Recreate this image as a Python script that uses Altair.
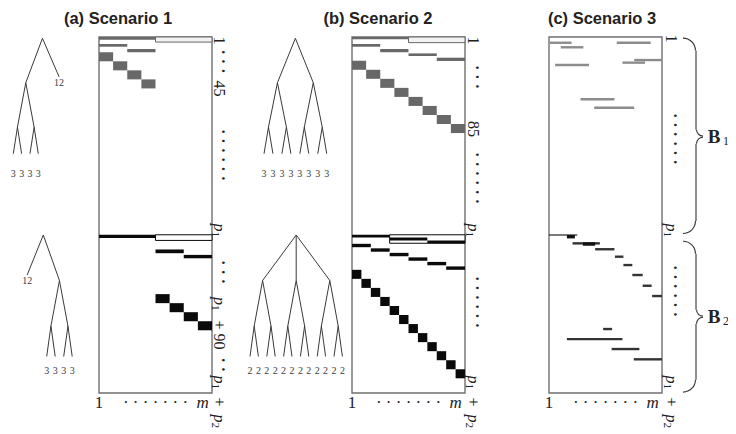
import math
import altair as alt
import pandas as pd

# ---------------- data (matrix units: columns 0..24, rows 0..315) ----------------
TITLES = ["(a) Scenario 1", "(b) Scenario 2", "(c) Scenario 3"]

# Scenario 1 blocks (c0, c1, r0, r1)
A_GRAY = [(0, 12, 0, 2.5), (0, 6, 6.2, 8.6), (6, 12, 10.6, 13.5),
          (0, 3, 13.5, 21.5), (3, 6, 21.5, 29.5), (6, 9, 29.5, 37.5), (9, 12, 37.5, 45.5)]
A_GRAY_OPEN = [(12, 24, 0, 4.5)]
A_BLACK = [(0, 12, 175, 177.8), (12, 18, 188, 191.3), (18, 24, 192.8, 195.8),
           (12, 15, 227.5, 235.5), (15, 18, 235.5, 243.5), (18, 21, 243.5, 251.5), (21, 24, 251.5, 259.5)]
A_BLACK_OPEN = [(12, 24, 175, 180)]

# Scenario 2 blocks
B_GRAY = [(0, 12, 0, 2), (0, 6, 6.2, 8.6), (6, 12, 10.6, 13.5), (12, 18, 14.5, 16.8), (18, 24, 18.3, 21.2),
          (0, 3, 21, 29), (3, 6, 29, 37), (6, 9, 37, 45), (9, 12, 45, 53),
          (12, 15, 53, 61), (15, 18, 61, 69), (18, 21, 69, 77), (21, 24, 77, 85)]
B_GRAY_OPEN = [(12, 24, 0, 5)]
B_BLACK = [(0, 8, 175, 177.5), (8, 16, 177.5, 180), (16, 24, 180, 182.5),
           (0, 4, 183, 186), (4, 8, 187, 190), (8, 12, 191, 194), (12, 16, 195, 198),
           (16, 20, 199, 202), (20, 24, 203, 206),
           (0, 2, 206, 214), (2, 4, 214, 222), (4, 6, 222, 230), (6, 8, 230, 238),
           (8, 10, 238, 246), (10, 12, 246, 254), (12, 14, 254, 262), (14, 16, 262, 270),
           (16, 18, 270, 278), (18, 20, 278, 286), (20, 22, 286, 294), (22, 24, 294, 302)]
B_BLACK_OPEN = [(8, 24, 175, 182.5)]

# Scenario 3 segments (c0, c1, row)
C_GRAY_SEG = [(0.2, 4.8, 5.1), (2.5, 7.3, 9.1), (14.4, 21.6, 5.1), (1.3, 8.5, 24.8),
              (15.6, 20.4, 22.7), (18.1, 24, 20.4), (6.7, 13.9, 55.1), (9.6, 18.1, 62.6)]
C_DARK_SEG = [(5, 10.8, 182.6), (9.8, 13.9, 187.8), (14, 15.8, 194.4), (15.8, 17.7, 201.8),
              (17.7, 19.9, 210.6), (19.9, 21.8, 220.1), (21.9, 24, 229.2), (11.5, 13.4, 258.4),
              (3.8, 15.6, 267.3), (13.3, 19.2, 276.1), (18, 24, 285.2)]
C_THIN_SEG = [(0, 6, 175.2)]
C_THICK_SEG = [(3.8, 5.5, 176.7), (7.2, 9.8, 183.2)]

# right-hand row labels: (text, row, style)  n=upright, i=italic, s=subscript, d=dots
A_ROWLAB = [("1", 3.1, "n"), ("· · ·", 21.7, "d"), ("45", 45.6, "n"), ("· · · · · ·", 104.4, "d"),
            ("p", 168.5, "i"), ("1", 174.5, "s"), ("· · ·", 208, "d"),
            ("p", 233.5, "i"), ("1", 239.5, "s"), ("+ 90", 263.7, "n"),
            ("· ·", 290, "d"), ("p", 303, "i"), ("1", 309, "s"), ("+", 323, "n"),
            ("p", 337.5, "i"), ("2", 343.5, "s")]
B_ROWLAB = [("1", 3.1, "n"), ("· · ·", 35.4, "d"), ("85", 81.4, "n"), ("· · · · · ·", 124.8, "d"),
            ("p", 168.5, "i"), ("1", 174.5, "s"), ("· · · · · ·", 234.5, "d"),
            ("p", 303, "i"), ("1", 309, "s"), ("+", 323, "n"), ("p", 337.5, "i"), ("2", 343.5, "s")]
C_ROWLAB = [("1", 1.3, "n"), ("· · · · · ·", 90.2, "d"), ("p", 168.5, "i"), ("1", 174.5, "s"),
            ("· · · · · ·", 224.7, "d"), ("p", 303, "i"), ("1", 309, "s"), ("+", 323, "n"),
            ("p", 337.5, "i"), ("2", 343.5, "s")]
COLLAB = [("1", 0, "n"), ("· · · · · · ·", 12, "n"), ("m", 22, "i")]

# trees: nodes (u = leaf units, level), edges, labels (u, level, text)
T_A1_NODES = {"r": (3.5, 0), "n": (1.5, 1), "t": (5.5, 0.87), "l": (0.5, 2), "m": (2.5, 2),
              "x0": (0, 2.6), "x1": (1, 2.6), "x2": (2, 2.6), "x3": (3, 2.6)}
T_A1_EDGES = [("r", "n"), ("r", "t"), ("n", "l"), ("n", "m"), ("l", "x0"), ("l", "x1"), ("m", "x2"), ("m", "x3")]
T_A1_LABELS = [(5.5, 1.0, "12"), (0, 3.05, "3"), (1, 3.05, "3"), (2, 3.05, "3"), (3, 3.05, "3")]

T_A2_NODES = {"r": (-0.4, 0), "t": (-2.3, 0.88), "n": (1.5, 1), "l": (0.5, 2), "m": (2.5, 2),
              "x0": (0, 2.67), "x1": (1, 2.67), "x2": (2, 2.67), "x3": (3, 2.67)}
T_A2_EDGES = [("r", "t"), ("r", "n"), ("n", "l"), ("n", "m"), ("l", "x0"), ("l", "x1"), ("m", "x2"), ("m", "x3")]
T_A2_LABELS = [(-2.3, 1.02, "12"), (0, 2.98, "3"), (1, 2.98, "3"), (2, 2.98, "3"), (3, 2.98, "3")]

T_B1_NODES = {"r": (3.5, 0), "p": (1.5, 1), "q": (5.5, 1),
              "a": (0.5, 2), "b": (2.5, 2), "c": (4.5, 2), "d": (6.5, 2),
              "x0": (0, 2.6), "x1": (1, 2.6), "x2": (2, 2.6), "x3": (3, 2.6),
              "x4": (4, 2.6), "x5": (5, 2.6), "x6": (6, 2.6), "x7": (7, 2.6)}
T_B1_EDGES = [("r", "p"), ("r", "q"), ("p", "a"), ("p", "b"), ("q", "c"), ("q", "d"),
              ("a", "x0"), ("a", "x1"), ("b", "x2"), ("b", "x3"), ("c", "x4"), ("c", "x5"), ("d", "x6"), ("d", "x7")]
T_B1_LABELS = [(0, 3.05, "3"), (1, 3.05, "3"), (2, 3.05, "3"), (3, 3.05, "3"),
               (4, 3.05, "3"), (5, 3.05, "3"), (6, 3.05, "3"), (7, 3.05, "3")]

T_B2_NODES = {"r": (5.5, 0), "p": (1.5, 1), "q": (5.5, 1), "s": (9.5, 1),
              "a": (0.5, 2), "b": (2.5, 2), "c": (4.5, 2), "d": (6.5, 2), "e": (8.5, 2), "f": (10.5, 2),
              "x0": (0, 2.67), "x1": (1, 2.67), "x2": (2, 2.67), "x3": (3, 2.67), "x4": (4, 2.67), "x5": (5, 2.67),
              "x6": (6, 2.67), "x7": (7, 2.67), "x8": (8, 2.67), "x9": (9, 2.67), "x10": (10, 2.67), "x11": (11, 2.67)}
T_B2_EDGES = [("r", "p"), ("r", "q"), ("r", "s"), ("p", "a"), ("p", "b"), ("q", "c"), ("q", "d"), ("s", "e"), ("s", "f"),
              ("a", "x0"), ("a", "x1"), ("b", "x2"), ("b", "x3"), ("c", "x4"), ("c", "x5"),
              ("d", "x6"), ("d", "x7"), ("e", "x8"), ("e", "x9"), ("f", "x10"), ("f", "x11")]
T_B2_LABELS = [(0, 2.98, "2"), (1, 2.98, "2"), (2, 2.98, "2"), (3, 2.98, "2"), (4, 2.98, "2"), (5, 2.98, "2"),
               (6, 2.98, "2"), (7, 2.98, "2"), (8, 2.98, "2"), (9, 2.98, "2"), (10, 2.98, "2"), (11, 2.98, "2")]

# braces in scenario 3: (first row, tip row, last row, label, subscript)
BRACES = [(0.5, 88.2, 174.3, "B", "1"), (180.3, 247.5, 314.7, "B", "2")]

# ---------------- layout ----------------
W, H = 720, 426
TOP, BOT = 37, 393
NROWS, NCOLS = 315, 24
LEFT = {"a": 99, "b": 352, "c": 549}
BOX_W = 113
TITLE_X = {"a": 118, "b": 378, "c": 602}
TREE_GEOM = {"A1": (13.3, 8.33, 38.3, 44.4), "A2": (46.7, 8.5, 235, 45.5),
             "B1": (264, 8.96, 38.3, 44.4), "B2": (250, 8.4, 235, 45.5)}

GRAY = "#686868"
BLACK = "#0a0a0a"
SERIF = "Liberation Serif"
INK = "#222222"


def mx(p, c):
    return LEFT[p] + c * BOX_W / NCOLS


def my(r):
    return TOP + r * (BOT - TOP) / NROWS


XS = alt.Scale(domain=[8, 8 + W], nice=False, zero=False)
YS = alt.Scale(domain=[8, 8 + H], nice=False, zero=False, reverse=True)


def X(f):
    return alt.X(f, type="quantitative", scale=XS, axis=None)


def Y(f):
    return alt.Y(f, type="quantitative", scale=YS, axis=None)


layers = []


def rects(p, rows, **mk):
    df = pd.DataFrame([{"x": mx(p, a), "x2": mx(p, b), "y": my(c), "y2": my(d)} for a, b, c, d in rows])
    layers.append(alt.Chart(df).mark_rect(**mk).encode(x=X("x"), x2="x2", y=Y("y"), y2="y2"))


def segs(p, rows, color, width):
    df = pd.DataFrame([{"x": mx(p, a), "x2": mx(p, b), "y": my(r)} for a, b, r in rows])
    layers.append(alt.Chart(df).mark_rule(color=color, strokeWidth=width).encode(x=X("x"), x2="x2", y=Y("y")))


def texts(df, **mk):
    layers.append(alt.Chart(df).mark_text(**mk).encode(x=X("x"), y=Y("y"), text="t:N"))


# matrix boxes
for p in "abc":
    rects(p, [(0, NCOLS, 0, NROWS)], fill="white", stroke="#707070", strokeWidth=1.4)

# scenario 1 & 2 blocks
rects("a", A_GRAY_OPEN, fill="#f2f2f2", stroke=GRAY, strokeWidth=1)
rects("a", A_GRAY, color=GRAY)
rects("a", A_BLACK_OPEN, fill="white", stroke=BLACK, strokeWidth=1)
rects("a", A_BLACK, color=BLACK)
rects("b", B_GRAY_OPEN, fill="#f2f2f2", stroke=GRAY, strokeWidth=1)
rects("b", B_GRAY, color=GRAY)
rects("b", B_BLACK_OPEN, fill="white", stroke=BLACK, strokeWidth=1)
rects("b", B_BLACK, color=BLACK)

# scenario 3 segments
segs("c", C_GRAY_SEG, "#8c8c8c", 2.4)
segs("c", C_THIN_SEG, "#222222", 1.2)
segs("c", C_DARK_SEG, "#333333", 2.4)
segs("c", C_THICK_SEG, "#111111", 3.4)

# trees
for key, nodes, edges, labels in [("A1", T_A1_NODES, T_A1_EDGES, T_A1_LABELS),
                                  ("A2", T_A2_NODES, T_A2_EDGES, T_A2_LABELS),
                                  ("B1", T_B1_NODES, T_B1_EDGES, T_B1_LABELS),
                                  ("B2", T_B2_NODES, T_B2_EDGES, T_B2_LABELS)]:
    x0, du, y0, dy = TREE_GEOM[key]
    pos = {k: (x0 + u * du, y0 + lv * dy) for k, (u, lv) in nodes.items()}
    edf = pd.DataFrame([{"x": pos[a][0], "y": pos[a][1], "x2": pos[b][0], "y2": pos[b][1]} for a, b in edges])
    layers.append(alt.Chart(edf).mark_rule(color="#3a3a3a", strokeWidth=1).encode(
        x=X("x"), y=Y("y"), x2="x2", y2="y2"))
    ldf = pd.DataFrame([{"x": x0 + u * du, "y": y0 + lv * dy, "t": t} for u, lv, t in labels])
    texts(ldf, font=SERIF, fontSize=10, color="#3a3a3a", baseline="middle", align="center")

# titles
tdf = pd.DataFrame([{"x": TITLE_X[p], "y": 18.5, "t": t} for p, t in zip("abc", TITLES)])
texts(tdf, font="Liberation Sans", fontSize=16.5, fontWeight="bold", color=INK,
      align="center", baseline="middle")

# right-hand row labels (rotated 90 degrees)
for p, labs, off in [("a", A_ROWLAB, 7), ("b", B_ROWLAB, 8), ("c", C_ROWLAB, 9)]:
    xl = mx(p, NCOLS) + off
    shift = {"n": 0, "i": 0, "d": 4, "s": -4}
    for style in ["n", "i", "d", "s"]:
        rows = [{"x": xl + shift[s], "y": my(r), "t": t} for t, r, s in labs if s == style]
        if not rows:
            continue
        texts(pd.DataFrame(rows), font=SERIF, fontSize=11 if style == "s" else 16, angle=90,
              align="center", baseline="middle",
              fontStyle="italic" if style == "i" else "normal", color=INK,
              fontWeight="bold" if style == "d" else "normal")

# bottom column labels
for style in ["n", "i"]:
    rows = [{"x": mx(p, c), "y": 403, "t": t} for p in "abc" for t, c, s in COLLAB if s == style]
    texts(pd.DataFrame(rows), font=SERIF, fontSize=17, align="center", baseline="middle",
          fontStyle="italic" if style == "i" else "normal", color=INK)

# braces
bx0 = mx("c", NCOLS) + 21
bx1 = bx0 + 13
bx2 = bx1 + 7
arc_sets = {0: [], 1: [], 2: [], 3: []}
vrules = []
blabs = []
bsubs = []
for r0, rt, r1, lab, sub in BRACES:
    y0, yt, y1 = my(r0), my(rt), my(r1)
    arc_sets[0].append({"x": bx0, "y": y0 + 13})
    arc_sets[1].append({"x": bx2, "y": yt - 7})
    arc_sets[2].append({"x": bx2, "y": yt + 7})
    arc_sets[3].append({"x": bx0, "y": y1 - 13})
    vrules.append({"x": bx1, "y": y0 + 13, "y2": yt - 7})
    vrules.append({"x": bx1, "y": yt + 7, "y2": y1 - 13})
    blabs.append({"x": bx2 + 11, "y": yt, "t": lab})
    bsubs.append({"x": bx2 + 23, "y": yt + 4, "t": sub})
arc_theta = {0: (0, math.pi / 2), 1: (math.pi, 1.5 * math.pi), 2: (1.5 * math.pi, 2 * math.pi), 3: (math.pi / 2, math.pi)}
arc_rad = {0: 13, 1: 7, 2: 7, 3: 13}
for k, rows in arc_sets.items():
    layers.append(alt.Chart(pd.DataFrame(rows)).mark_arc(
        theta=arc_theta[k][0], theta2=arc_theta[k][1], radius=arc_rad[k], radius2=arc_rad[k] - 1.1,
        color="#333333").encode(x=X("x"), y=Y("y")))
layers.append(alt.Chart(pd.DataFrame(vrules)).mark_rule(color="#333333", strokeWidth=1.1).encode(
    x=X("x"), y=Y("y"), y2="y2"))
texts(pd.DataFrame(blabs), font=SERIF, fontSize=19, fontWeight="bold", align="center", baseline="middle",
      color=INK)
texts(pd.DataFrame(bsubs), font=SERIF, fontSize=12, align="center", baseline="middle", color=INK)

chart = alt.layer(*layers).properties(
    width=W, height=H, padding=0, autosize=alt.AutoSizeParams(type="none")
).configure_view(stroke=None)

chart.save("out.html", embed_options={"renderer": "svg", "actions": False})
